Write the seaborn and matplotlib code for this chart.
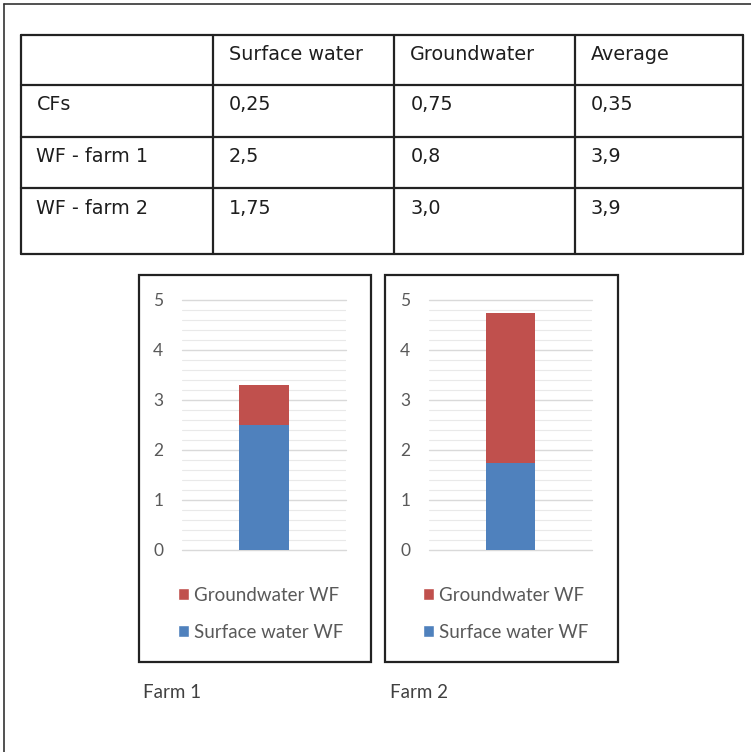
import matplotlib
matplotlib.use("Agg")
import matplotlib.pyplot as plt
from matplotlib.patches import Rectangle, Patch
from matplotlib.ticker import MultipleLocator
import seaborn as sns
import pandas as pd

# ---- data -------------------------------------------------------------
col_headers = ["Surface water", "Groundwater", "Average"]
row_labels = ["CFs", "WF - farm 1", "WF - farm 2"]
cf_values = [0.25, 0.75, 0.35]
wf_farm1 = [2.5, 0.8, 3.9]
wf_farm2 = [1.75, 3.0, 3.9]

farms = ["Farm 1", "Farm 2"]
surface_wf = [2.5, 1.75]
ground_wf = [0.8, 3.0]
series_names = ["Groundwater WF", "Surface water WF"]
y_ticks = [0, 1, 2, 3, 4, 5]

RED = "#C0504D"
BLUE = "#4F81BD"
GRAY_TXT = "#595959"
LINE = "#222222"

W, H = 751, 752
sns.set_theme(style="white")
plt.rcParams["font.family"] = ["DejaVu Sans"]

fig = plt.figure(figsize=(W / 100, H / 100), dpi=100)
fig.patch.set_facecolor("white")


def fx(px):
    return px / W


def fy(py):
    return 1 - py / H


def fmt(v):
    s = f"{v:g}"
    if "." not in s:
        s += ".0"
    return s.replace(".", ",")


# outer frame (top and left edges)
fig.add_artist(plt.Line2D([fx(4), fx(4)], [fy(4), 0], color="#333333", lw=1.2,
                          transform=fig.transFigure))
fig.add_artist(plt.Line2D([fx(4), 1], [fy(4), fy(4)], color="#333333", lw=1.2,
                          transform=fig.transFigure))

# ---- table ------------------------------------------------------------
col_x = [20.5, 212.7, 394.3, 575, 743]
row_y = [35, 85, 136.7, 188.3, 254.3]
for x in col_x:
    fig.add_artist(plt.Line2D([fx(x), fx(x)], [fy(row_y[0]), fy(row_y[-1])],
                              color=LINE, lw=1.6, transform=fig.transFigure))
for y in row_y:
    fig.add_artist(plt.Line2D([fx(col_x[0]), fx(col_x[-1])], [fy(y), fy(y)],
                              color=LINE, lw=1.6, transform=fig.transFigure))

tkw = dict(fontsize=13.8, color="#1e1e1e", va="center", ha="left")
for j, h in enumerate(col_headers):
    fig.text(fx(col_x[j + 1] + 16), fy(row_y[0] + 20), h, **tkw)
for i, (lab, vals) in enumerate(zip(row_labels, [cf_values, wf_farm1, wf_farm2])):
    ytxt = fy(row_y[i + 1] + 20)
    fig.text(fx(col_x[0] + 16), ytxt, lab, **tkw)
    for j, v in enumerate(vals):
        fig.text(fx(col_x[j + 1] + 16), ytxt, fmt(v), **tkw)

# ---- stacked bar charts -------------------------------------------------
boxes = [(138.5, 275, 370.5, 662), (384.7, 275, 617.5, 662)]
plot_x = [(182, 346), (429, 592)]
legend_x = [178, 423]
label_x = [143, 390]

for k, farm in enumerate(farms):
    bx0, by0, bx1, by1 = boxes[k]
    fig.add_artist(Rectangle((fx(bx0), fy(by1)), fx(bx1) - fx(bx0), fy(by0) - fy(by1),
                             fill=False, ec=LINE, lw=1.6, transform=fig.transFigure))
    x0, x1 = plot_x[k]
    ax = fig.add_axes([fx(x0), fy(550), fx(x1) - fx(x0), fy(300) - fy(550)])
    df = pd.DataFrame({
        "farm": [farm],
        "total": [surface_wf[k] + ground_wf[k]],
        "surface": [surface_wf[k]],
    })
    sns.barplot(data=df, x="farm", y="total", color=RED, width=0.305,
                saturation=1, ax=ax, zorder=3, linewidth=0)
    sns.barplot(data=df, x="farm", y="surface", color=BLUE, width=0.305,
                saturation=1, ax=ax, zorder=4, linewidth=0)
    ax.set_xlim(-0.5, 0.5)
    ax.set_ylim(0, 5)
    ax.set_yticks(y_ticks)
    ax.yaxis.set_minor_locator(MultipleLocator(0.2))
    ax.grid(axis="y", which="major", color="#d9d9d9", lw=1.0, zorder=0)
    ax.grid(axis="y", which="minor", color="#e9e9e9", lw=0.8, zorder=0)
    for gl in ax.get_ygridlines():
        gl.set_clip_on(False)
    ax.set_axisbelow(True)
    for s in ax.spines.values():
        s.set_visible(False)
    ax.set_xlabel("")
    ax.set_ylabel("")
    ax.set_xticks([])
    ax.tick_params(axis="y", which="both", length=0, pad=13.5, labelsize=12.5,
                   labelcolor=GRAY_TXT)
    for t in ax.get_yticklabels():
        t.set_fontfamily(["Lato", "DejaVu Sans"])
    ax.patch.set_alpha(0)

    handles = [Patch(facecolor=RED), Patch(facecolor=BLUE)]
    leg = fig.legend(handles, series_names, loc="upper left",
                     bbox_to_anchor=(fx(legend_x[k]), fy(587)),
                     bbox_transform=fig.transFigure, frameon=False,
                     borderpad=0, borderaxespad=0, handlelength=0.6,
                     handleheight=0.6, handletextpad=0.25, labelspacing=1.05,
                     prop={"family": ["Lato", "DejaVu Sans"], "size": 13.5})
    for t in leg.get_texts():
        t.set_color(GRAY_TXT)

    fig.text(fx(label_x[k]), fy(692), farm, fontsize=13.5, color="#404040",
             va="center", ha="left", family=["Lato", "DejaVu Sans"])

fig.savefig("out.png", dpi=100, facecolor="white")
